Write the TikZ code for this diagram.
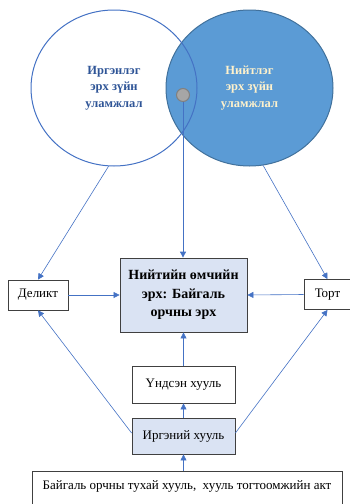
\documentclass[tikz,border=0pt]{standalone}
\usepackage{fontspec}
\setmainfont{Liberation Serif}
\usetikzlibrary{shapes.geometric,arrows.meta}
\definecolor{linkblue}{HTML}{4472C4}
\definecolor{pubfill}{HTML}{5B9BD5}
\definecolor{pubedge}{HTML}{41719C}
\definecolor{civtext}{HTML}{2F5597}
\definecolor{pubtext}{HTML}{FFF2CC}
\definecolor{boxfill}{HTML}{DAE3F3}
\definecolor{boxedge}{HTML}{404040}
\begin{document}
\begin{tikzpicture}[x=1pt, y=-1pt,
    box/.style={draw=boxedge, line width=0.8pt, rectangle, inner sep=0pt, align=center},
    link/.style={linkblue, line width=0.6pt, -{Triangle[width=6pt,length=6pt]}}]
  \useasboundingbox (0,0) rectangle (350,504);
  % the two traditions
  \node[ellipse, draw=pubedge, fill=pubfill, line width=1pt, minimum width=167, minimum height=156,
        align=center, text=pubtext, font=\fontsize{12.5}{16.5}\selectfont\bfseries]
        (pub) at (249.5,88) {Нийтлэг\\эрх зүйн\\уламжлал};
  \node[ellipse, draw=linkblue, line width=1pt, minimum width=166, minimum height=156,
        align=center, text=civtext, font=\fontsize{12.5}{16.5}\selectfont\bfseries]
        (civ) at (114,88) {Иргэнлэг\\эрх зүйн\\уламжлал};
  \node[circle, draw=gray, fill=gray!70, line width=1pt, minimum size=13, inner sep=0pt] (dot) at (183,95) {};
  % the boxes
  \node[box, fill=boxfill, minimum width=127, minimum height=74, font=\fontsize{14}{18.5}\selectfont\bfseries]
        (pubright) at (183.5,295) {Нийтийн өмчийн\\эрх: Байгаль\\орчны эрх};
  \node[box, minimum width=60, minimum height=30, font=\fontsize{13}{16}\selectfont] (delict) at (38,295) {Деликт};
  \node[box, minimum width=47, minimum height=30, font=\fontsize{13}{16}\selectfont] (tort) at (327.5,294.5) {Торт};
  \node[box, minimum width=103, minimum height=37, font=\fontsize{13}{16}\selectfont] (const) at (183.5,384.5) {Үндсэн хууль};
  \node[box, fill=boxfill, minimum width=103, minimum height=36, font=\fontsize{13}{16}\selectfont] (civlaw) at (183.5,436) {Иргэний хууль};
  \node[box, anchor=north, minimum width=310, inner ysep=9pt, font=\fontsize{13}{18}\selectfont] (envlaw) at (187,471)
        {Байгаль орчны тухай хууль,~~хууль тогтоомжийн акт\\\mbox{}};
  % the arrows
  \draw[link, line width=0.9pt] (dot.south) -- (dot.south |- pubright.north);
  \draw[link] (civ.-94) -- (delict.north);
  \draw[link] (pub.-80) -- (tort.north);
  \draw[link] (delict.east) -- (pubright.west);
  \draw[link] (tort.west) -- (pubright.east);
  \draw[link] (const) -- (pubright);
  \draw[link] (civlaw) -- (const);
  \draw[link] (envlaw.north -| civlaw) -- (civlaw);
  \draw[link] (civlaw.west) ++(0,-3) -- (delict.south);
  \draw[link] (civlaw.east) ++(0,-3) -- (tort.south);
\end{tikzpicture}
\end{document}
